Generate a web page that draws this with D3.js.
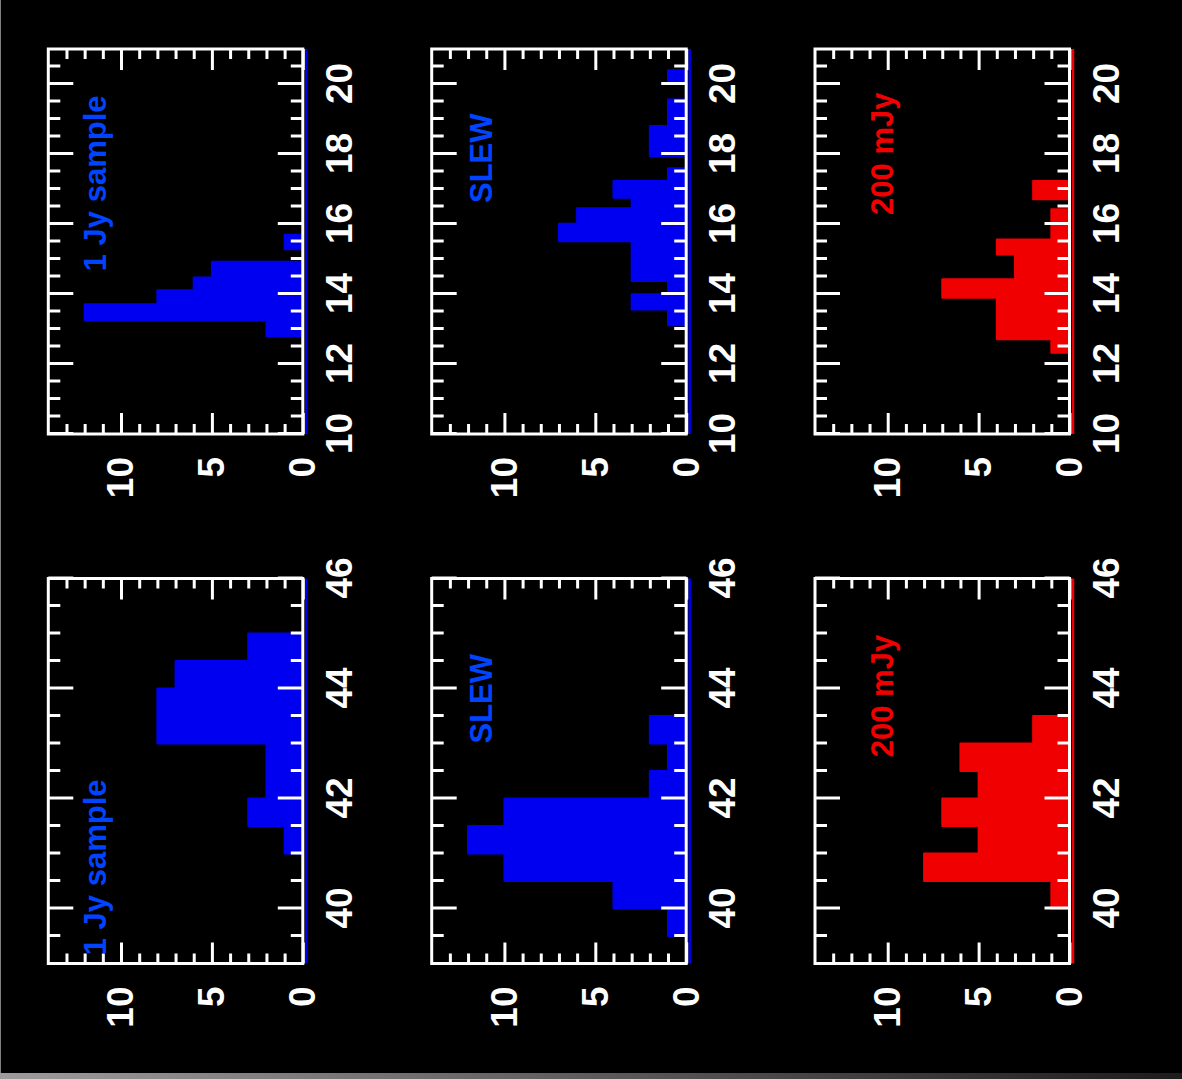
<!DOCTYPE html>
<html>
<head>
<meta charset="utf-8">
<script src="https://cdn.jsdelivr.net/npm/d3@7"></script>
<style>
  html, body { margin: 0; padding: 0; background: #000; overflow: hidden; }
</style>
</head>
<body>
<div id="chart"></div>
<script>
// Axis ranges and ticks
const rangeLow = [10, 21];
const rangeHigh = [39, 46];
const majorLow = [10, 12, 14, 16, 18, 20];
const majorHigh = [40, 42, 44, 46];
const countRange = [0, 14];
const countMajor = [0, 5, 10];

const sampleNames = ["1 Jy sample", "SLEW", "200 mJy"];

// Histogram bins (edges) and counts
const jyLowEdges = [12.8, 13.25, 13.71, 14.11, 14.47, 14.92, 15.28, 15.69];
const jyLowCounts = [2, 12, 8, 6, 5, 0, 1];
const jyHighEdges = [41, 41.5, 42, 43, 44, 44.5, 45];
const jyHighCounts = [1, 3, 2, 8, 7, 3];

const slewLowEdges = [13.11, 13.56, 13.99, 14.37, 15.51, 16.01, 16.45, 16.75, 17.23, 17.59, 17.94, 18.8, 19.56, 20.07, 20.39];
const slewLowCounts = [1, 3, 1, 3, 7, 6, 3, 4, 1, 0, 2, 1, 0, 1];
const slewHighEdges = [39.5, 40, 40.5, 41, 41.5, 42, 42.5, 43, 43.5];
const slewHighCounts = [1, 4, 10, 12, 10, 2, 1, 2];

const mjyLowEdges = [12.32, 12.71, 13.89, 14.42, 15.13, 15.56, 16.42, 16.71, 17.23];
const mjyLowCounts = [1, 4, 7, 3, 4, 1, 0, 2];
const mjyHighEdges = [40, 40.5, 41, 41.5, 42, 42.5, 43, 43.5];
const mjyHighCounts = [1, 8, 5, 7, 5, 6, 2];

// label anchor in data units (x value where text starts, count at baseline)
const labelLowX = [14.65, 16.6, 16.26];
const labelHighX = [39.15, 43.0, 42.75];
const labelCount = [10.8, 10.66, 9.72];

// Layout (picture coordinates, before rotation)
const W = 1182, H = 1079;
const colLeft = [48.3, 431.7, 815];
const colWidth = 254.5;
const rowTop = [49, 578.5];
const rowHeight = 385;

const barColors = ["#0000f0", "#0000f0", "#f00000"];
const textColors = ["#0044ff", "#0044ff", "#f00000"];

const svg = d3.select("#chart").append("svg")
  .attr("width", W)
  .attr("height", H)
  .style("display", "block")
  .style("background", "#000");

// thin left border + grey strip at the bottom
const grad = svg.append("defs").append("linearGradient")
  .attr("id", "strip").attr("x1", "0%").attr("x2", "100%");
grad.append("stop").attr("offset", "0%").attr("stop-color", "#9c9c9c");
grad.append("stop").attr("offset", "100%").attr("stop-color", "#1c1c1c");
svg.append("rect").attr("x", 0).attr("y", 1073).attr("width", W).attr("height", 6)
  .attr("fill", "url(#strip)");
svg.append("line").attr("x1", 0.5).attr("x2", 0.5).attr("y1", 0).attr("y2", 1073)
  .attr("stroke", "#808080").attr("stroke-width", 1);

// Whole figure is rotated: draw upright, then turn -90 degrees
const g = svg.append("g").attr("transform", `translate(0,${H}) rotate(-90)`);

const panels = [
  { col: 0, row: 0, range: rangeLow, major: majorLow, edges: jyLowEdges, counts: jyLowCounts, lx: labelLowX[0] },
  { col: 0, row: 1, range: rangeHigh, major: majorHigh, edges: jyHighEdges, counts: jyHighCounts, lx: labelHighX[0] },
  { col: 1, row: 0, range: rangeLow, major: majorLow, edges: slewLowEdges, counts: slewLowCounts, lx: labelLowX[1] },
  { col: 1, row: 1, range: rangeHigh, major: majorHigh, edges: slewHighEdges, counts: slewHighCounts, lx: labelHighX[1] },
  { col: 2, row: 0, range: rangeLow, major: majorLow, edges: mjyLowEdges, counts: mjyLowCounts, lx: labelLowX[2] },
  { col: 2, row: 1, range: rangeHigh, major: majorHigh, edges: mjyHighEdges, counts: mjyHighCounts, lx: labelHighX[2] }
];

function styleAxis(sel) {
  sel.select(".domain").remove();
  sel.attr("color", "#fff")
    .attr("font-family", "'Liberation Sans', Arial, sans-serif")
    .attr("font-size", 37)
    .attr("font-weight", "bold");
  sel.selectAll(".tick line").attr("stroke-width", 3);
  sel.selectAll(".tick text").attr("fill", "#fff");
}

panels.forEach(p => {
  // upright coordinates: u = H - y, v = x
  const yTop = rowTop[p.row], yBot = rowTop[p.row] + rowHeight;
  const xL = colLeft[p.col], xR = colLeft[p.col] + colWidth;
  const u0 = H - yBot, u1 = H - yTop;
  const v0 = xL, v1 = xR;

  const x = d3.scaleLinear().domain(p.range).range([u0, u1]);
  const y = d3.scaleLinear().domain(countRange).range([v1, v0]);

  const minor = d3.range(p.range[0], p.range[1] + 0.001, 0.5)
    .filter(d => !p.major.includes(d) && d > p.range[0] && d < p.range[1]);
  const countMinor = d3.range(1, countRange[1]).filter(d => !countMajor.includes(d));

  const pg = g.append("g");

  // histogram as a step outline
  const pts = [{ x: p.edges[0], c: 0 }];
  p.counts.forEach((c, i) => {
    pts.push({ x: p.edges[i], c: c });
    pts.push({ x: p.edges[i + 1], c: c });
  });
  pts.push({ x: p.edges[p.edges.length - 1], c: 0 });

  const line = d3.line().x(d => x(d.x)).y(d => y(d.c));
  pg.append("path")
    .datum(pts)
    .attr("d", line)
    .attr("fill", barColors[p.col])
    .attr("stroke", barColors[p.col])
    .attr("stroke-width", 2)
    .attr("stroke-linejoin", "round");

  // coloured zero line just outside the frame
  pg.append("line")
    .attr("x1", u0).attr("x2", u1)
    .attr("y1", y(0) + 3.5).attr("y2", y(0) + 3.5)
    .attr("stroke", barColors[p.col])
    .attr("stroke-width", 2.5);

  // ticks, all pointing inwards
  pg.append("g").attr("transform", `translate(0,${v1})`)
    .call(d3.axisBottom(x).tickValues(p.major).tickSize(-25).tickPadding(23).tickFormat(d3.format("d")))
    .call(styleAxis);
  pg.append("g").attr("transform", `translate(0,${v1})`)
    .call(d3.axisBottom(x).tickValues(minor).tickSize(-12).tickFormat(""))
    .call(styleAxis);
  pg.append("g").attr("transform", `translate(0,${v0})`)
    .call(d3.axisTop(x).tickValues(p.major).tickSize(-25).tickFormat(""))
    .call(styleAxis);
  pg.append("g").attr("transform", `translate(0,${v0})`)
    .call(d3.axisTop(x).tickValues(minor).tickSize(-12).tickFormat(""))
    .call(styleAxis);

  pg.append("g").attr("transform", `translate(${u0},0)`)
    .call(d3.axisLeft(y).tickValues(countMajor).tickSize(-21).tickPadding(23).tickFormat(d3.format("d")))
    .call(styleAxis);
  pg.append("g").attr("transform", `translate(${u0},0)`)
    .call(d3.axisLeft(y).tickValues(countMinor).tickSize(-10).tickFormat(""))
    .call(styleAxis);
  pg.append("g").attr("transform", `translate(${u1},0)`)
    .call(d3.axisRight(y).tickValues(countMajor).tickSize(-21).tickFormat(""))
    .call(styleAxis);
  pg.append("g").attr("transform", `translate(${u1},0)`)
    .call(d3.axisRight(y).tickValues(countMinor).tickSize(-10).tickFormat(""))
    .call(styleAxis);

  // frame
  pg.append("rect")
    .attr("x", u0).attr("y", v0)
    .attr("width", u1 - u0).attr("height", v1 - v0)
    .attr("fill", "none")
    .attr("stroke", "#fff")
    .attr("stroke-width", 3);

  // sample label
  pg.append("text")
    .attr("x", x(p.lx))
    .attr("y", y(labelCount[p.col]))
    .attr("fill", textColors[p.col])
    .attr("font-family", "'Liberation Sans', Arial, sans-serif")
    .attr("font-weight", "bold")
    .attr("font-size", 31)
    .text(sampleNames[p.col]);
});
</script>
</body>
</html>
